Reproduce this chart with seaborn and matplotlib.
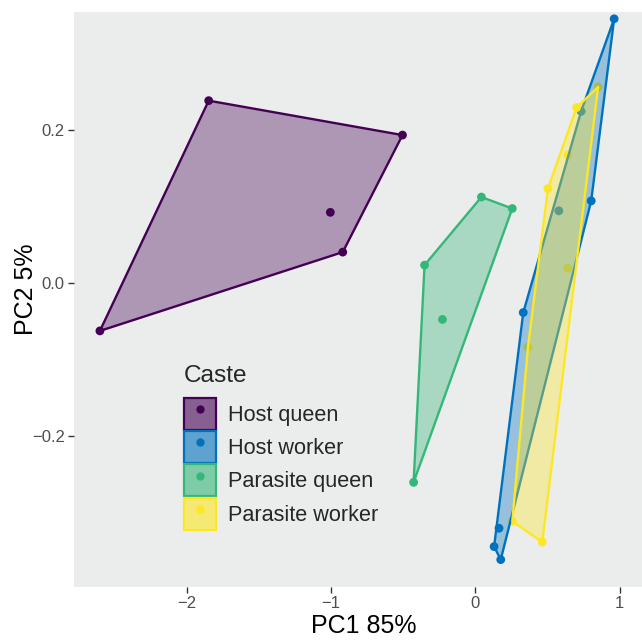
import pandas as pd
import matplotlib.pyplot as plt
import seaborn as sns
from matplotlib.colors import to_rgba
from matplotlib.patches import Polygon, Patch
from matplotlib.lines import Line2D
from matplotlib.legend_handler import HandlerTuple

castes = ["Host queen", "Host worker", "Parasite queen", "Parasite worker"]
colors = ["#440154", "#0072BD", "#35B779", "#FDE725"]

# PCA scores
host_queen_pc1 = [-1.849, -0.506, -1.006, -0.920, -2.603]
host_queen_pc2 = [0.238, 0.193, 0.092, 0.040, -0.063]

host_worker_pc1 = [0.961, 0.732, 0.802, 0.578, 0.331, 0.163, 0.129, 0.175]
host_worker_pc2 = [0.345, 0.224, 0.107, 0.094, -0.039, -0.321, -0.345, -0.362]

parasite_queen_pc1 = [0.041, 0.255, -0.353, -0.229, -0.429]
parasite_queen_pc2 = [0.112, 0.097, 0.023, -0.048, -0.261]

parasite_worker_pc1 = [0.850, 0.701, 0.502, 0.640, 0.638, 0.364, 0.255, 0.463]
parasite_worker_pc2 = [0.256, 0.229, 0.123, 0.167, 0.019, -0.084, -0.312, -0.339]

x_ticks = [-2, -1, 0, 1]
y_ticks = [-0.2, 0.0, 0.2]


def chull(points):
    pts = sorted(set(map(tuple, points)))

    def cross(o, a, b):
        return (a[0] - o[0]) * (b[1] - o[1]) - (a[1] - o[1]) * (b[0] - o[0])

    lower, upper = [], []
    for p in pts:
        while len(lower) >= 2 and cross(lower[-2], lower[-1], p) <= 0:
            lower.pop()
        lower.append(p)
    for p in reversed(pts):
        while len(upper) >= 2 and cross(upper[-2], upper[-1], p) <= 0:
            upper.pop()
        upper.append(p)
    return lower[:-1] + upper[:-1]


frames = []
for caste, pc1, pc2 in zip(castes,
                           [host_queen_pc1, host_worker_pc1, parasite_queen_pc1, parasite_worker_pc1],
                           [host_queen_pc2, host_worker_pc2, parasite_queen_pc2, parasite_worker_pc2]):
    frames.append(pd.DataFrame({"PC1": pc1, "PC2": pc2, "Caste": caste}))
df = pd.concat(frames, ignore_index=True)

sns.set_theme(style="ticks", rc={"axes.facecolor": "#EBECEC"})
plt.rcParams['font.family'] = ['Liberation Sans', 'DejaVu Sans']

fig = plt.figure(figsize=(6.42, 6.40), dpi=100)
ax = fig.add_axes([73.5 / 642, 53 / 640, 568.5 / 642, 575 / 640])

sns.scatterplot(data=df, x="PC1", y="PC2", hue="Caste", hue_order=castes,
                palette=colors, s=40, linewidth=0, legend=False, ax=ax, zorder=2)

for caste, col in zip(castes, colors):
    sub = df[df["Caste"] == caste]
    hull = chull(sub[["PC1", "PC2"]].values)
    ax.add_patch(Polygon(hull, closed=True, facecolor=to_rgba(col, 0.36),
                         edgecolor=col, linewidth=1.7, joinstyle="round", zorder=3))

ax.set_xlim(-2.786, 1.154)
ax.set_ylim(-0.3978, 0.3539)
ax.set_xticks(x_ticks)
ax.set_yticks(y_ticks)
ax.tick_params(length=4, width=1, color="#333333", labelcolor="#4D4D4D",
               labelsize=12, pad=2.4)
sns.despine(ax=ax, left=True, bottom=True)
ax.grid(False)

ax.set_xlabel("PC1 85%", fontsize=18, color="black", va="center")
ax.set_ylabel("PC2 5%", fontsize=18, color="black", va="center")
ax.xaxis.set_label_coords((364 - 73.5) / 568.5, (587 - 626) / 575)
ax.yaxis.set_label_coords((26 - 73.5) / 568.5, (587 - 289) / 575)

handles = []
for col in colors:
    box = Patch(facecolor=to_rgba(col, 0.6), edgecolor=col, linewidth=1.6)
    dot = Line2D([], [], marker="o", linestyle="none", markersize=6,
                 markerfacecolor=col, markeredgewidth=0)
    handles.append((box, dot))

leg = ax.legend(handles=handles, labels=castes, title="Caste",
                handler_map={tuple: HandlerTuple(ndivide=1)},
                loc="upper left", bbox_to_anchor=(184 / 642, 1 - 364.5 / 640),
                bbox_transform=fig.transFigure, frameon=False,
                borderpad=0, borderaxespad=0, labelspacing=0.06,
                handlelength=1.5, handleheight=1.9, handletextpad=0.55,
                fontsize=15.6, title_fontsize=17.6, alignment="left")
leg._legend_box.sep = 8.0

fig.savefig("out.png", dpi=100, facecolor="white")
